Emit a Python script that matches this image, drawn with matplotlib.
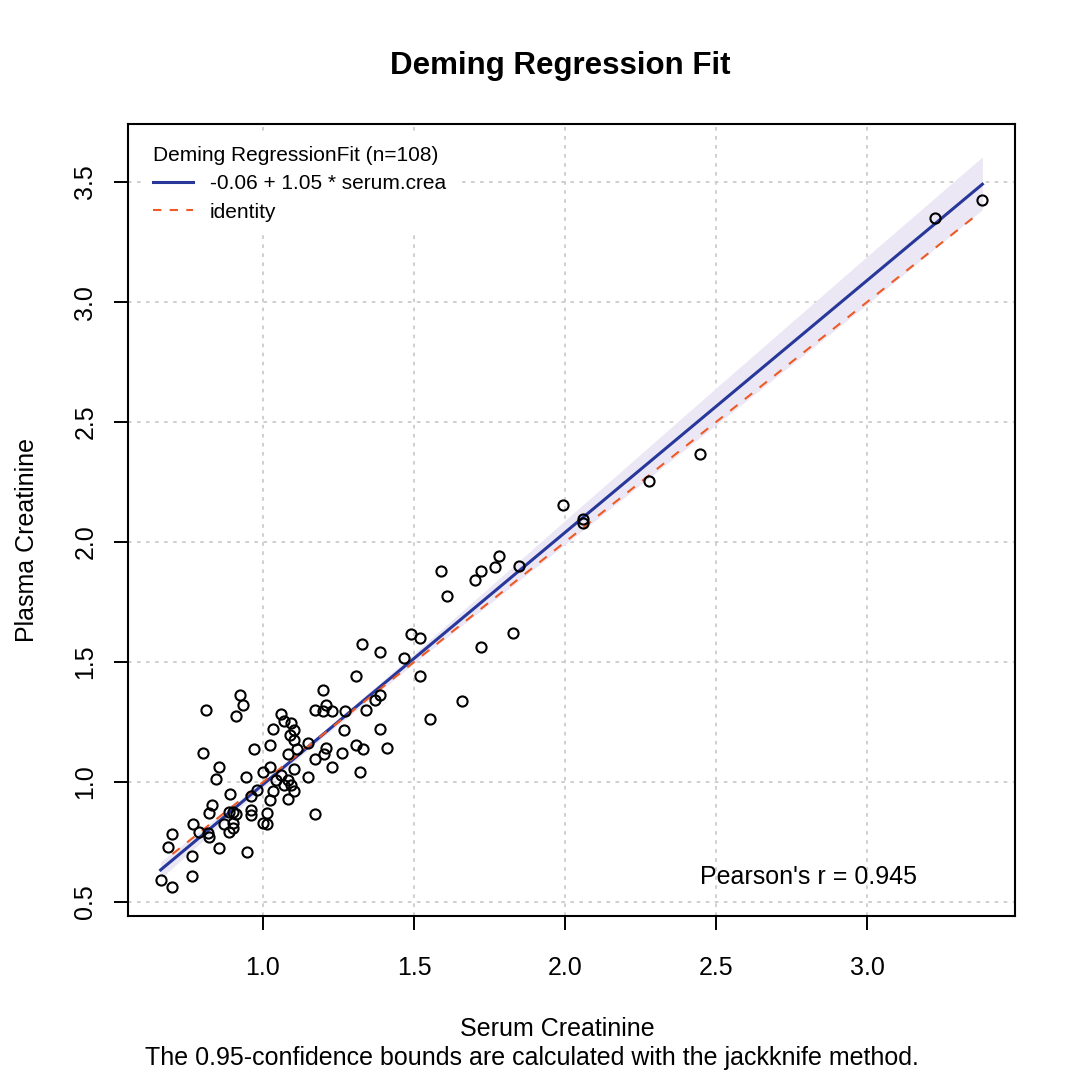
import matplotlib
matplotlib.use("Agg")
import matplotlib.pyplot as plt
from matplotlib.lines import Line2D

plt.rcParams['font.family'] = ['Liberation Sans', 'DejaVu Sans']

# serum vs plasma creatinine
serum = [0.661, 0.699, 0.685, 0.699, 0.764, 0.766, 0.767, 0.789, 0.800, 0.811,
         0.819, 0.821, 0.821, 0.832, 0.854, 0.843, 0.853, 0.871, 0.890, 0.887,
         0.901, 0.912, 0.901, 0.900, 0.888, 0.910, 0.923, 0.934, 0.948, 0.943,
         0.960, 0.960, 0.969, 0.979, 0.960, 0.999, 1.001, 1.013, 1.012, 1.023,
         1.022, 1.032, 1.043, 1.023, 1.032, 1.060, 1.070, 1.060, 1.070, 1.082,
         1.082, 1.093, 1.091, 1.103, 1.103, 1.113, 1.083, 1.101, 1.103, 1.094,
         1.148, 1.149, 1.171, 1.171, 1.200, 1.209, 1.200, 1.228, 1.172, 1.202,
         1.208, 1.228, 1.269, 1.386, 1.261, 1.307, 1.330, 1.411, 1.321, 1.270,
         1.341, 1.372, 1.386, 1.552, 1.307, 1.520, 1.466, 1.386, 1.329, 1.489,
         1.520, 1.589, 1.609, 1.701, 1.721, 1.769, 1.781, 1.848, 1.827, 1.721,
         1.658, 1.992, 2.061, 2.061, 2.277, 2.447, 3.225, 3.382]
plasma = [0.592, 0.563, 0.730, 0.785, 0.692, 0.608, 0.826, 0.792, 1.122, 1.301,
          0.788, 0.772, 0.871, 0.904, 1.063, 1.011, 0.726, 0.826, 0.950, 0.875,
          0.877, 0.869, 0.829, 0.808, 0.792, 1.276, 1.364, 1.322, 0.710, 1.022,
          0.883, 0.863, 1.139, 0.967, 0.943, 1.043, 0.830, 0.826, 0.871, 1.064,
          0.924, 0.964, 1.007, 1.155, 1.222, 1.285, 1.254, 1.030, 0.988, 0.931,
          1.118, 1.245, 1.196, 1.218, 1.177, 1.138, 1.010, 1.055, 0.964, 0.989,
          1.163, 1.022, 0.865, 1.300, 1.385, 1.320, 1.296, 1.297, 1.097, 1.116,
          1.140, 1.063, 1.217, 1.222, 1.122, 1.154, 1.139, 1.143, 1.043, 1.296,
          1.301, 1.340, 1.363, 1.263, 1.444, 1.442, 1.515, 1.543, 1.576, 1.616,
          1.601, 1.880, 1.776, 1.842, 1.880, 1.897, 1.942, 1.901, 1.622, 1.564,
          1.336, 2.155, 2.095, 2.080, 2.254, 2.367, 3.351, 3.425]

intercept = -0.06
slope = 1.05

# jackknife confidence band (read at a few x positions)
band_x = [0.661, 0.9, 1.2, 1.5, 2.0, 2.5, 3.0, 3.382]
band_lo = [0.598, 0.867, 1.188, 1.495, 1.990, 2.488, 2.990, 3.385]
band_hi = [0.668, 0.903, 1.212, 1.535, 2.090, 2.642, 3.190, 3.605]

identity_range = [0.70, 3.355]
pearson_r = 0.945

xticks = [1.0, 1.5, 2.0, 2.5, 3.0]
yticks = [0.5, 1.0, 1.5, 2.0, 2.5, 3.0, 3.5]

fig = plt.figure(figsize=(10.78, 10.9), dpi=100)
ax = fig.add_axes([128/1078, 1 - 916/1090, 887/1078, 792/1090])
ax.set_xlim(0.553, 3.49)
ax.set_ylim(0.442, 3.742)

# grid
for t in xticks:
    ax.axvline(t, color='#cccccc', lw=1.3, ls=(0, (2, 3)), zorder=0)
for t in yticks:
    ax.axhline(t, color='#cccccc', lw=1.3, ls=(0, (2, 3)), zorder=0)

ax.fill_between(band_x, band_lo, band_hi, color='#ebe7f4', lw=0, zorder=1)
fit_x = [min(serum), max(serum)]
fit_y = [intercept + slope * v for v in fit_x]
ax.plot(fit_x, fit_y, color='#27379a', lw=2.2, zorder=3)
ax.plot(identity_range, identity_range, color='#ee5a24', lw=1.5,
        ls=(0, (4.5, 4.5)), zorder=3)
ax.plot(serum, plasma, 'o', ms=7.3, mfc='none', mec='black', mew=1.5, zorder=4)

ax.set_xticks(xticks)
ax.set_xticklabels([f"{t:.1f}" for t in xticks])
ax.set_yticks(yticks)
ax.set_yticklabels([f"{t:.1f}" for t in yticks], rotation=90, va='center')
ax.tick_params(axis='both', direction='out', length=10, width=1.4,
               labelsize=18, color='black')
ax.tick_params(axis='x', pad=19)
ax.tick_params(axis='y', pad=12)
for s in ax.spines.values():
    s.set_linewidth(1.5)

ax.text(0.767, 0.049, f"Pearson's r = {pearson_r}", transform=ax.transAxes,
        ha='center', va='center', fontsize=18)

handles = [Line2D([], [], color='#27379a', lw=2.2),
           Line2D([], [], color='#ee5a24', lw=1.5, ls=(0, (4, 4)))]
leg = ax.legend(handles, [f"{intercept:.2f} + {slope:.2f} * serum.crea", "identity"],
                title=f"Deming RegressionFit (n={len(serum)})",
                loc='upper left', bbox_to_anchor=(0.004, 1.0),
                fontsize=15, title_fontsize=15, alignment='left',
                frameon=True, fancybox=False, edgecolor='none',
                facecolor='white', framealpha=1, handlelength=1.9,
                handletextpad=0.8, labelspacing=0.45, borderpad=0.55)
leg.set_zorder(5)

fig.text(560/1078, 1 - 66/1090, "Deming Regression Fit", ha='center',
         va='center', fontsize=22.5, fontweight='bold')
fig.text(557/1078, 1 - 1029/1090, "Serum Creatinine", ha='center',
         va='center', fontsize=18)
fig.text(532/1078, 1 - 1058/1090,
         "The 0.95-confidence bounds are calculated with the jackknife method.",
         ha='center', va='center', fontsize=18)
fig.text(27/1078, 1 - 540/1090, "Plasma Creatinine", ha='center',
         va='center', rotation=90, fontsize=18)

fig.savefig("out.png", dpi=100)
